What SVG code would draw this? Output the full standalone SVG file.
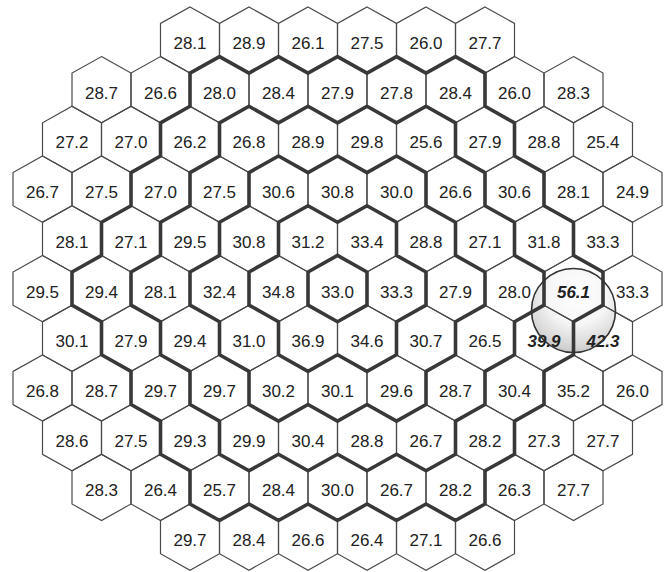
<svg xmlns="http://www.w3.org/2000/svg" width="667" height="572" viewBox="0 0 667 572">
<style>
.c use{fill:none;stroke:#4a4a4a;stroke-width:1.2}
.c text{font-family:"Liberation Sans",Arial,sans-serif;font-size:17px;fill:#222;text-anchor:middle}
.c text.hot{font-weight:bold;font-style:italic}
.ring{fill:none;stroke:#383838;stroke-width:3.6;stroke-linejoin:round}
</style>
<defs>
<polygon id="hx" points="0,-33.1 29.5,-16.6 29.5,16.6 0,33.1 -29.5,16.6 -29.5,-16.6"/>
<radialGradient id="glass" cx="0.55" cy="0.3" r="0.8">
<stop offset="0" stop-color="#ffffff"/>
<stop offset="0.45" stop-color="#f6f6f6"/>
<stop offset="0.8" stop-color="#d4d4d4"/>
<stop offset="1" stop-color="#b4b4b4"/>
</radialGradient>
</defs>
<rect width="667" height="572" fill="#fff"/>
<circle id="lens-fill" cx="573.5" cy="310.5" r="42" fill="url(#glass)"/>
<g class="c">
<!-- row 1 -->
<g id="r1-1" transform="translate(190,40)"><use href="#hx"/><text y="9">28.1</text></g>
<g id="r1-2" transform="translate(249,40)"><use href="#hx"/><text y="9">28.9</text></g>
<g id="r1-3" transform="translate(308,40)"><use href="#hx"/><text y="9">26.1</text></g>
<g id="r1-4" transform="translate(367,40)"><use href="#hx"/><text y="9">27.5</text></g>
<g id="r1-5" transform="translate(426,40)"><use href="#hx"/><text y="9">26.0</text></g>
<g id="r1-6" transform="translate(485,40)"><use href="#hx"/><text y="9">27.7</text></g>
<!-- row 2 -->
<g id="r2-1" transform="translate(101.5,89.7)"><use href="#hx"/><text y="9">28.7</text></g>
<g id="r2-2" transform="translate(160.5,89.7)"><use href="#hx"/><text y="9">26.6</text></g>
<g id="r2-3" transform="translate(219.5,89.7)"><use href="#hx"/><text y="9">28.0</text></g>
<g id="r2-4" transform="translate(278.5,89.7)"><use href="#hx"/><text y="9">28.4</text></g>
<g id="r2-5" transform="translate(337.5,89.7)"><use href="#hx"/><text y="9">27.9</text></g>
<g id="r2-6" transform="translate(396.5,89.7)"><use href="#hx"/><text y="9">27.8</text></g>
<g id="r2-7" transform="translate(455.5,89.7)"><use href="#hx"/><text y="9">28.4</text></g>
<g id="r2-8" transform="translate(514.5,89.7)"><use href="#hx"/><text y="9">26.0</text></g>
<g id="r2-9" transform="translate(573.5,89.7)"><use href="#hx"/><text y="9">28.3</text></g>
<!-- row 3 -->
<g id="r3-1" transform="translate(72,139.4)"><use href="#hx"/><text y="9">27.2</text></g>
<g id="r3-2" transform="translate(131,139.4)"><use href="#hx"/><text y="9">27.0</text></g>
<g id="r3-3" transform="translate(190,139.4)"><use href="#hx"/><text y="9">26.2</text></g>
<g id="r3-4" transform="translate(249,139.4)"><use href="#hx"/><text y="9">26.8</text></g>
<g id="r3-5" transform="translate(308,139.4)"><use href="#hx"/><text y="9">28.9</text></g>
<g id="r3-6" transform="translate(367,139.4)"><use href="#hx"/><text y="9">29.8</text></g>
<g id="r3-7" transform="translate(426,139.4)"><use href="#hx"/><text y="9">25.6</text></g>
<g id="r3-8" transform="translate(485,139.4)"><use href="#hx"/><text y="9">27.9</text></g>
<g id="r3-9" transform="translate(544,139.4)"><use href="#hx"/><text y="9">28.8</text></g>
<g id="r3-10" transform="translate(603,139.4)"><use href="#hx"/><text y="9">25.4</text></g>
<!-- row 4 -->
<g id="r4-1" transform="translate(42.5,189.1)"><use href="#hx"/><text y="9">26.7</text></g>
<g id="r4-2" transform="translate(101.5,189.1)"><use href="#hx"/><text y="9">27.5</text></g>
<g id="r4-3" transform="translate(160.5,189.1)"><use href="#hx"/><text y="9">27.0</text></g>
<g id="r4-4" transform="translate(219.5,189.1)"><use href="#hx"/><text y="9">27.5</text></g>
<g id="r4-5" transform="translate(278.5,189.1)"><use href="#hx"/><text y="9">30.6</text></g>
<g id="r4-6" transform="translate(337.5,189.1)"><use href="#hx"/><text y="9">30.8</text></g>
<g id="r4-7" transform="translate(396.5,189.1)"><use href="#hx"/><text y="9">30.0</text></g>
<g id="r4-8" transform="translate(455.5,189.1)"><use href="#hx"/><text y="9">26.6</text></g>
<g id="r4-9" transform="translate(514.5,189.1)"><use href="#hx"/><text y="9">30.6</text></g>
<g id="r4-10" transform="translate(573.5,189.1)"><use href="#hx"/><text y="9">28.1</text></g>
<g id="r4-11" transform="translate(632.5,189.1)"><use href="#hx"/><text y="9">24.9</text></g>
<!-- row 5 -->
<g id="r5-1" transform="translate(72,238.8)"><use href="#hx"/><text y="9">28.1</text></g>
<g id="r5-2" transform="translate(131,238.8)"><use href="#hx"/><text y="9">27.1</text></g>
<g id="r5-3" transform="translate(190,238.8)"><use href="#hx"/><text y="9">29.5</text></g>
<g id="r5-4" transform="translate(249,238.8)"><use href="#hx"/><text y="9">30.8</text></g>
<g id="r5-5" transform="translate(308,238.8)"><use href="#hx"/><text y="9">31.2</text></g>
<g id="r5-6" transform="translate(367,238.8)"><use href="#hx"/><text y="9">33.4</text></g>
<g id="r5-7" transform="translate(426,238.8)"><use href="#hx"/><text y="9">28.8</text></g>
<g id="r5-8" transform="translate(485,238.8)"><use href="#hx"/><text y="9">27.1</text></g>
<g id="r5-9" transform="translate(544,238.8)"><use href="#hx"/><text y="9">31.8</text></g>
<g id="r5-10" transform="translate(603,238.8)"><use href="#hx"/><text y="9">33.3</text></g>
<!-- row 6 -->
<g id="r6-1" transform="translate(42.5,288.6)"><use href="#hx"/><text y="9">29.5</text></g>
<g id="r6-2" transform="translate(101.5,288.6)"><use href="#hx"/><text y="9">29.4</text></g>
<g id="r6-3" transform="translate(160.5,288.6)"><use href="#hx"/><text y="9">28.1</text></g>
<g id="r6-4" transform="translate(219.5,288.6)"><use href="#hx"/><text y="9">32.4</text></g>
<g id="r6-5" transform="translate(278.5,288.6)"><use href="#hx"/><text y="9">34.8</text></g>
<g id="r6-6" transform="translate(337.5,288.6)"><use href="#hx"/><text y="9">33.0</text></g>
<g id="r6-7" transform="translate(396.5,288.6)"><use href="#hx"/><text y="9">33.3</text></g>
<g id="r6-8" transform="translate(455.5,288.6)"><use href="#hx"/><text y="9">27.9</text></g>
<g id="r6-9" transform="translate(514.5,288.6)"><use href="#hx"/><text y="9">28.0</text></g>
<g id="r6-10" transform="translate(573.5,288.6)"><use href="#hx"/><text class="hot" y="9">56.1</text></g>
<g id="r6-11" transform="translate(632.5,288.6)"><use href="#hx"/><text y="9">33.3</text></g>
<!-- row 7 -->
<g id="r7-1" transform="translate(72,338.3)"><use href="#hx"/><text y="9">30.1</text></g>
<g id="r7-2" transform="translate(131,338.3)"><use href="#hx"/><text y="9">27.9</text></g>
<g id="r7-3" transform="translate(190,338.3)"><use href="#hx"/><text y="9">29.4</text></g>
<g id="r7-4" transform="translate(249,338.3)"><use href="#hx"/><text y="9">31.0</text></g>
<g id="r7-5" transform="translate(308,338.3)"><use href="#hx"/><text y="9">36.9</text></g>
<g id="r7-6" transform="translate(367,338.3)"><use href="#hx"/><text y="9">34.6</text></g>
<g id="r7-7" transform="translate(426,338.3)"><use href="#hx"/><text y="9">30.7</text></g>
<g id="r7-8" transform="translate(485,338.3)"><use href="#hx"/><text y="9">26.5</text></g>
<g id="r7-9" transform="translate(544,338.3)"><use href="#hx"/><text class="hot" y="9">39.9</text></g>
<g id="r7-10" transform="translate(603,338.3)"><use href="#hx"/><text class="hot" y="9">42.3</text></g>
<!-- row 8 -->
<g id="r8-1" transform="translate(42.5,388)"><use href="#hx"/><text y="9">26.8</text></g>
<g id="r8-2" transform="translate(101.5,388)"><use href="#hx"/><text y="9">28.7</text></g>
<g id="r8-3" transform="translate(160.5,388)"><use href="#hx"/><text y="9">29.7</text></g>
<g id="r8-4" transform="translate(219.5,388)"><use href="#hx"/><text y="9">29.7</text></g>
<g id="r8-5" transform="translate(278.5,388)"><use href="#hx"/><text y="9">30.2</text></g>
<g id="r8-6" transform="translate(337.5,388)"><use href="#hx"/><text y="9">30.1</text></g>
<g id="r8-7" transform="translate(396.5,388)"><use href="#hx"/><text y="9">29.6</text></g>
<g id="r8-8" transform="translate(455.5,388)"><use href="#hx"/><text y="9">28.7</text></g>
<g id="r8-9" transform="translate(514.5,388)"><use href="#hx"/><text y="9">30.4</text></g>
<g id="r8-10" transform="translate(573.5,388)"><use href="#hx"/><text y="9">35.2</text></g>
<g id="r8-11" transform="translate(632.5,388)"><use href="#hx"/><text y="9">26.0</text></g>
<!-- row 9 -->
<g id="r9-1" transform="translate(72,437.7)"><use href="#hx"/><text y="9">28.6</text></g>
<g id="r9-2" transform="translate(131,437.7)"><use href="#hx"/><text y="9">27.5</text></g>
<g id="r9-3" transform="translate(190,437.7)"><use href="#hx"/><text y="9">29.3</text></g>
<g id="r9-4" transform="translate(249,437.7)"><use href="#hx"/><text y="9">29.9</text></g>
<g id="r9-5" transform="translate(308,437.7)"><use href="#hx"/><text y="9">30.4</text></g>
<g id="r9-6" transform="translate(367,437.7)"><use href="#hx"/><text y="9">28.8</text></g>
<g id="r9-7" transform="translate(426,437.7)"><use href="#hx"/><text y="9">26.7</text></g>
<g id="r9-8" transform="translate(485,437.7)"><use href="#hx"/><text y="9">28.2</text></g>
<g id="r9-9" transform="translate(544,437.7)"><use href="#hx"/><text y="9">27.3</text></g>
<g id="r9-10" transform="translate(603,437.7)"><use href="#hx"/><text y="9">27.7</text></g>
<!-- row 10 -->
<g id="r10-1" transform="translate(101.5,487.4)"><use href="#hx"/><text y="9">28.3</text></g>
<g id="r10-2" transform="translate(160.5,487.4)"><use href="#hx"/><text y="9">26.4</text></g>
<g id="r10-3" transform="translate(219.5,487.4)"><use href="#hx"/><text y="9">25.7</text></g>
<g id="r10-4" transform="translate(278.5,487.4)"><use href="#hx"/><text y="9">28.4</text></g>
<g id="r10-5" transform="translate(337.5,487.4)"><use href="#hx"/><text y="9">30.0</text></g>
<g id="r10-6" transform="translate(396.5,487.4)"><use href="#hx"/><text y="9">26.7</text></g>
<g id="r10-7" transform="translate(455.5,487.4)"><use href="#hx"/><text y="9">28.2</text></g>
<g id="r10-8" transform="translate(514.5,487.4)"><use href="#hx"/><text y="9">26.3</text></g>
<g id="r10-9" transform="translate(573.5,487.4)"><use href="#hx"/><text y="9">27.7</text></g>
<!-- row 11 -->
<g id="r11-1" transform="translate(190,537.1)"><use href="#hx"/><text y="9">29.7</text></g>
<g id="r11-2" transform="translate(249,537.1)"><use href="#hx"/><text y="9">28.4</text></g>
<g id="r11-3" transform="translate(308,537.1)"><use href="#hx"/><text y="9">26.6</text></g>
<g id="r11-4" transform="translate(367,537.1)"><use href="#hx"/><text y="9">26.4</text></g>
<g id="r11-5" transform="translate(426,537.1)"><use href="#hx"/><text y="9">27.1</text></g>
<g id="r11-6" transform="translate(485,537.1)"><use href="#hx"/><text y="9">26.6</text></g>
</g>
<g id="ring-boundaries">
<path class="ring" d="M337.5 255.4 L367 272 L367 305.1 L337.5 321.7 L308 305.1 L308 272 Z"/>
<path class="ring" d="M278.5 222.3 L308 205.7 L337.5 222.3 L367 205.7 L396.5 222.3 L396.5 255.4 L426 272 L426 305.1 L396.5 321.7 L396.5 354.8 L367 371.4 L337.5 354.8 L308 371.4 L278.5 354.8 L278.5 321.7 L249 305.1 L249 272 L278.5 255.4 Z"/>
<path class="ring" d="M249 172.6 L278.5 156 L308 172.6 L337.5 156 L367 172.6 L396.5 156 L426 172.6 L426 205.7 L455.5 222.3 L455.5 255.4 L485 272 L485 305.1 L455.5 321.7 L455.5 354.8 L426 371.4 L426 404.5 L396.5 421.1 L367 404.5 L337.5 421.1 L308 404.5 L278.5 421.1 L249 404.5 L249 371.4 L219.5 354.8 L219.5 321.7 L190 305.1 L190 272 L219.5 255.4 L219.5 222.3 L249 205.7 Z"/>
<path class="ring" d="M219.5 122.9 L249 106.3 L278.5 122.9 L308 106.3 L337.5 122.9 L367 106.3 L396.5 122.9 L426 106.3 L455.5 122.9 L455.5 156 L485 172.6 L485 205.7 L514.5 222.3 L514.5 255.4 L544 272 L544 305.1 L514.5 321.7 L514.5 354.8 L485 371.4 L485 404.5 L455.5 421.1 L455.5 454.3 L426 470.8 L396.5 454.3 L367 470.8 L337.5 454.3 L308 470.8 L278.5 454.3 L249 470.8 L219.5 454.3 L219.5 421.1 L190 404.5 L190 371.4 L160.5 354.8 L160.5 321.7 L131 305.1 L131 272 L160.5 255.4 L160.5 222.3 L190 205.7 L190 172.6 L219.5 156 Z"/>
<path class="ring" d="M190 73.1 L219.5 56.6 L249 73.1 L278.5 56.6 L308 73.1 L337.5 56.6 L367 73.1 L396.5 56.6 L426 73.1 L455.5 56.6 L485 73.1 L485 106.3 L514.5 122.9 L514.5 156 L544 172.6 L544 205.7 L573.5 222.3 L573.5 255.4 L603 272 L603 305.1 L573.5 321.7 L573.5 354.8 L544 371.4 L544 404.5 L514.5 421.1 L514.5 454.3 L485 470.8 L485 504 L455.5 520.5 L426 504 L396.5 520.5 L367 504 L337.5 520.5 L308 504 L278.5 520.5 L249 504 L219.5 520.5 L190 504 L190 470.8 L160.5 454.3 L160.5 421.1 L131 404.5 L131 371.4 L101.5 354.8 L101.5 321.7 L72 305.1 L72 272 L101.5 255.4 L101.5 222.3 L131 205.7 L131 172.6 L160.5 156 L160.5 122.9 L190 106.3 Z"/>
</g>
<circle id="lens" cx="573.5" cy="310.5" r="42" fill="none" stroke="#333" stroke-width="1.6"/>
</svg>
